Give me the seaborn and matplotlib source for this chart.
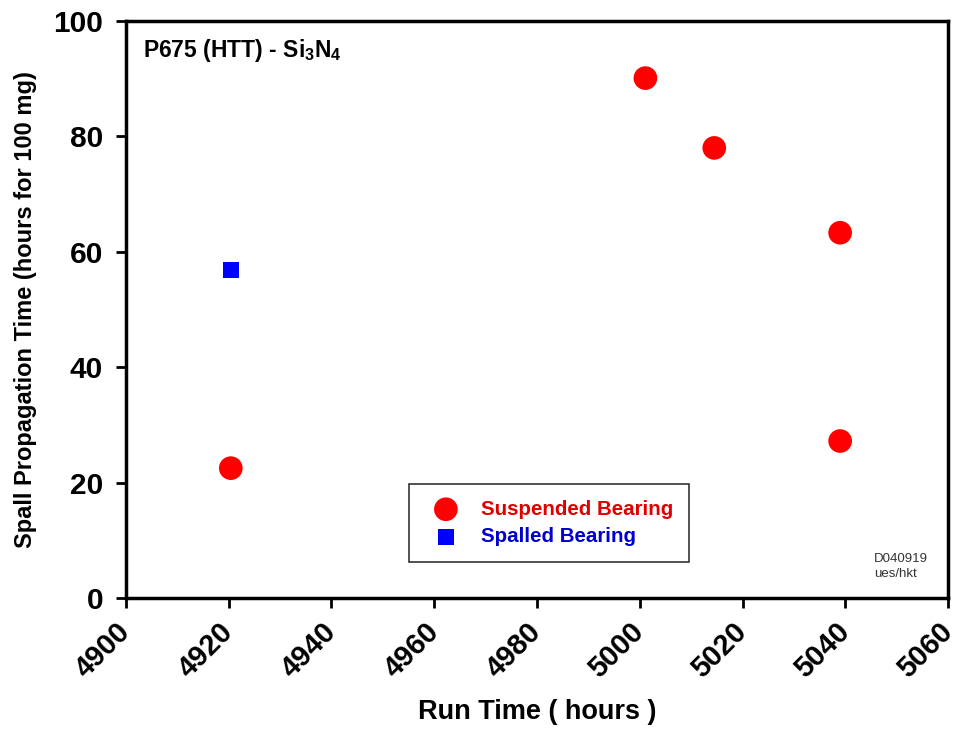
import matplotlib
matplotlib.use("Agg")
import matplotlib.pyplot as plt
import matplotlib.transforms as mtransforms
import seaborn as sns
import pandas as pd

suspended_x = [4920.4, 5001.1, 5014.5, 5039.0, 5039.0]
suspended_y = [22.5, 90.1, 78.0, 63.3, 27.2]
spalled_x = [4920.4]
spalled_y = [56.8]
x_ticks = [4900, 4920, 4940, 4960, 4980, 5000, 5020, 5040, 5060]
y_ticks = [0, 20, 40, 60, 80, 100]

sns.set_style("white")
plt.rcParams['font.family'] = ['Liberation Sans', 'DejaVu Sans']
plt.rcParams['text.color'] = 'black'
plt.rcParams['axes.labelcolor'] = 'black'
plt.rcParams['xtick.color'] = 'black'
plt.rcParams['ytick.color'] = 'black'
plt.rcParams['mathtext.fontset'] = 'custom'
plt.rcParams['mathtext.rm'] = 'Liberation Sans:bold'
plt.rcParams['mathtext.bf'] = 'Liberation Sans:bold'

df = pd.DataFrame({
    "x": suspended_x + spalled_x,
    "y": suspended_y + spalled_y,
    "kind": ["Suspended Bearing"] * len(suspended_x) + ["Spalled Bearing"] * len(spalled_x),
})

fig = plt.figure(figsize=(9.58, 7.33), dpi=100)
ax = fig.add_axes([0.1315, 0.1842, 0.8581, 0.7872])

sub1 = df[df.kind == "Suspended Bearing"]
sub2 = df[df.kind == "Spalled Bearing"]
sns.scatterplot(data=sub1, x="x", y="y", ax=ax, color="#ff0000", marker="o",
                s=290, edgecolor="none", label="Suspended Bearing", zorder=3)
sns.scatterplot(data=sub2, x="x", y="y", ax=ax, color="#0000ff", marker="s",
                s=135, edgecolor="none", label="Spalled Bearing", zorder=3)

ax.set_xlim(4900, 5060)
ax.set_ylim(0, 100)
ax.set_xticks(x_ticks)
ax.set_yticks(y_ticks)
ax.set_xticklabels([str(t) for t in x_ticks], rotation=45, ha="right", va="center",
                   rotation_mode="anchor", fontsize=21, fontweight="bold")
ax.set_yticklabels([str(t) for t in y_ticks], fontsize=21.5, fontweight="bold")
ax.tick_params(axis="both", direction="out", length=7, width=2, bottom=True, left=True)
ax.tick_params(axis="x", pad=14.5)
ax.tick_params(axis="y", pad=9.5)
off = mtransforms.ScaledTranslation(0 / 100, 0, fig.dpi_scale_trans)
for lab in ax.get_xticklabels():
    lab.set_transform(lab.get_transform() + off)
for sp in ax.spines.values():
    sp.set_linewidth(2.5)
    sp.set_color("black")

ax.set_xlabel("Run Time ( hours )", fontsize=19.5, fontweight="bold", labelpad=11)
ax.set_ylabel("Spall Propagation Time (hours for 100 mg)", fontsize=17, fontweight="bold", labelpad=12)

ax.text(0.021, 0.948, r"P675 (HTT) - Si$_3$N$_4$", transform=ax.transAxes,
        fontsize=16.5, fontweight="bold", va="center", ha="left")
ax.text(0.91, 0.055, "D040919\nues/hkt", transform=ax.transAxes,
        fontsize=9.5, va="center", ha="left", color="#333333", linespacing=1.3)

leg = ax.legend(loc="center", bbox_to_anchor=(0.5146, 0.130),
                frameon=True, fancybox=False, edgecolor="black", borderpad=0.78,
                handlelength=2.05, handletextpad=0.68, labelspacing=0.42,
                prop={"weight": "bold", "size": 14.8})
leg.get_frame().set_linewidth(1.2)
for t, c in zip(leg.get_texts(), ["#e00000", "#0000cc"]):
    t.set_color(c)

fig.savefig("out.png", dpi=100)
